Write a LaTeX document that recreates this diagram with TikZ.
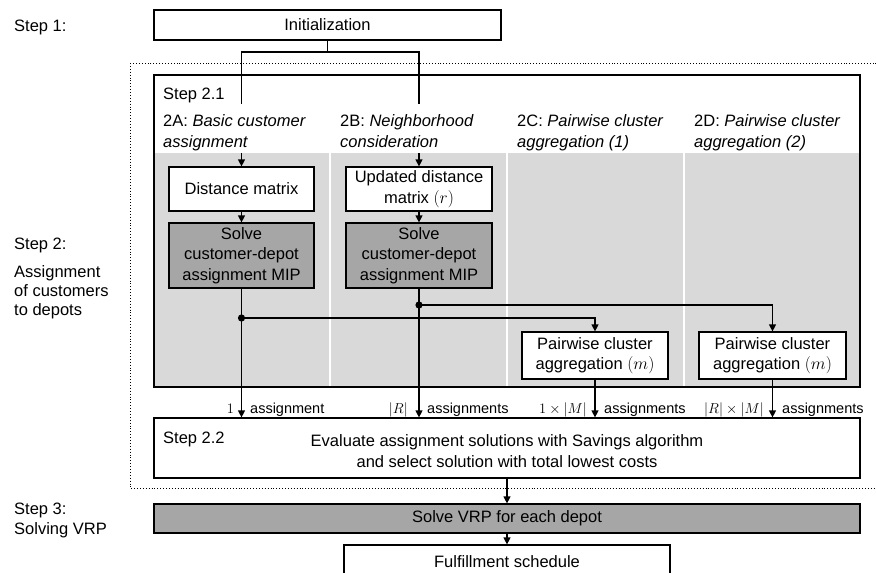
\documentclass[tikz,border=0pt]{standalone}
\usepackage{fontspec}
\setmainfont{Liberation Sans}
\usetikzlibrary{arrows.meta}
\definecolor{colgray}{RGB}{217,217,217}
\definecolor{boxgray}{RGB}{166,166,166}
\begin{document}
\begin{tikzpicture}[x=1pt,y=-1pt,
  every node/.style={font=\fontsize{16.5}{20.5}\selectfont, inner sep=0pt},
  box/.style={draw, line width=1.2pt, fill=white, align=center},
  darkbox/.style={box, fill=boxgray},
  conn/.style={line width=1.2pt, -{Triangle[length=7pt,width=7pt]}},
  plain/.style={line width=1.2pt},
  txt/.style={anchor=base west},
  small/.style={font=\fontsize{14.5}{17}\selectfont},
  dot/.style={fill=black}
]
\useasboundingbox (0,0) rectangle (876,573);
\clip (0,0) rectangle (876,573);

% left step labels
\node[txt] (st1) at (14,31) {Step 1:};
\node[txt] (st2) at (14,249) {Step 2:};
\node[txt] (st2a) at (14,277) {Assignment};
\node[txt] (st2b) at (14,296) {of customers};
\node[txt] (st2c) at (14,315) {to depots};
\node[txt] (st3) at (14,514) {Step 3:};
\node[txt] (st3a) at (14,534) {Solving VRP};

% dotted region of step 2
\draw[dotted, line width=0.9pt] (130,63) rectangle (880,488);

% gray columns
\fill[colgray] (154,153) rectangle (329,387);
\fill[colgray] (331,153) rectangle (506,387);
\fill[colgray] (508,153) rectangle (683,387);
\fill[colgray] (685,153) rectangle (860,387);

% boxes
\node[box, minimum width=347pt, minimum height=30pt] (init) at (327.5,25) {Initialization};
\node[box, minimum width=145pt, minimum height=44pt] (dm) at (241.5,189) {Distance matrix};
\node[box, minimum width=146pt, minimum height=44pt] (udm) at (419,189) {Updated distance\\matrix $(r)$};
\node[darkbox, minimum width=145pt, minimum height=65pt] (sv1) at (241.5,255.5) {Solve\\customer-depot\\assignment MIP};
\node[darkbox, minimum width=146pt, minimum height=65pt] (sv2) at (419,255.5) {Solve\\customer-depot\\assignment MIP};
\node[box, minimum width=146pt, minimum height=47pt] (pw1) at (595,355.5) {Pairwise cluster\\aggregation $(m)$};
\node[box, minimum width=147pt, minimum height=47pt] (pw2) at (772.5,355.5) {Pairwise cluster\\aggregation $(m)$};
\node[box, minimum width=706pt, minimum height=60pt] (s22) at (507,448) {};
\node[txt] (s22l) at (163,443) {Step 2.2};
\node[align=center] (s22t) at (507,451) {Evaluate assignment solutions with Savings algorithm\\and select solution with total lowest costs};
\node[darkbox, minimum width=706pt, minimum height=29pt] (vrp) at (507,518.5) {Solve VRP for each depot};
\node[box, minimum width=326pt, minimum height=33pt] (ful) at (507,561.5) {Fulfillment schedule};

% connectors
\coordinate (ij) at (327.5,52);
\draw[plain] (init.south) -- (ij);
\draw[conn] (ij) -| (dm.north);
\draw[conn] (ij) -| (udm.north);
\draw[conn] (dm.south) -- (sv1.north);
\draw[conn] (udm.south) -- (sv2.north);
\coordinate (d1) at (241.5,318);
\coordinate (d2) at (419,305);
\draw[plain] (sv1.south) -- (d1);
\draw[plain] (sv2.south) -- (d2);
\draw[conn] (d1) -- (d1 |- s22.north);
\draw[conn] (d2) -- (d2 |- s22.north);
\draw[conn] (d1) -| (pw1.north);
\draw[conn] (d2) -| (pw2.north);
\fill[dot] (d1) circle (3.6pt);
\fill[dot] (d2) circle (3.6pt);
\draw[conn] (pw1.south) -- (pw1.south |- s22.north);
\draw[conn] (pw2.south) -- (pw2.south |- s22.north);
\draw[conn] (s22.south) -- (vrp.north);
\draw[conn] (vrp.south) -- (ful.north);

% white header area covering the lines
\fill[white] (155,104) rectangle (859,152.5);

% step 2.1 frame and headers
\node[draw, line width=1.5pt, minimum width=706pt, minimum height=312pt] (s21) at (507,231) {};
\node[txt] (s21l) at (163,99) {Step 2.1};
\node[txt] (h2a) at (163,126) {2A: \textit{Basic customer}};
\node[txt] (h2a2) at (163,147) {\textit{assignment}};
\node[txt] (h2b) at (340,126) {2B: \textit{Neighborhood}};
\node[txt] (h2b2) at (340,147) {\textit{consideration}};
\node[txt] (h2c) at (517,126) {2C: \textit{Pairwise cluster}};
\node[txt] (h2c2) at (517,147) {\textit{aggregation (1)}};
\node[txt] (h2d) at (694,126) {2D: \textit{Pairwise cluster}};
\node[txt] (h2d2) at (694,147) {\textit{aggregation (2)}};

% labels on assignment arrows
\node[small, anchor=base east] (l1a) at (234,413) {$1$};
\node[small, txt] (l1b) at (250,413) {assignment};
\node[small, anchor=base east] (l2a) at (408,413) {$|R|$};
\node[small, txt] (l2b) at (427,413) {assignments};
\node[small, anchor=base east] (l3a) at (587,413) {$1\times|M|$};
\node[small, txt] (l3b) at (604,413) {assignments};
\node[small, anchor=base east] (l4a) at (764,413) {$|R|\times|M|$};
\node[small, txt] (l4b) at (782,413) {assignments};
\end{tikzpicture}
\end{document}
